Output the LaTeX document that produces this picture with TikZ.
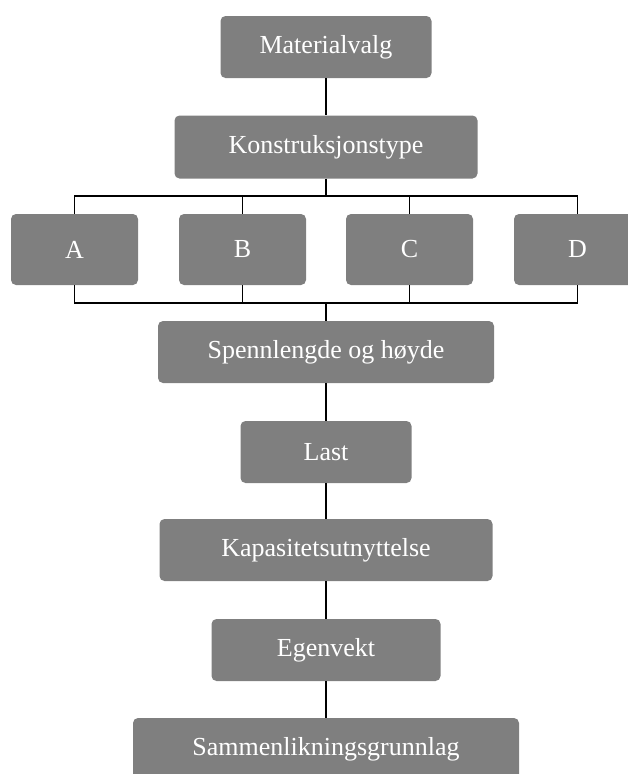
\documentclass[tikz,border=0pt]{standalone}
\usepackage{fontspec}
\setmainfont{Liberation Serif}
\definecolor{boxgray}{RGB}{127,127,127}
\begin{document}
\begin{tikzpicture}[x=1pt,y=-1pt,
  box/.style={fill=boxgray, draw=none, rounded corners=5pt, text=white,
    inner sep=0pt, minimum height=62pt,
    font=\fontsize{26}{31}\selectfont},
  conn/.style={draw=black, line width=1.5pt}]
\useasboundingbox (0,0) rectangle (628,774);
\clip (0,0) rectangle (628,774);
\node[box, minimum width=211pt] (mat) at (326,47) {Materialvalg};
\node[box, minimum width=303pt, minimum height=63pt] (kon) at (326,147) {Konstruksjonstype};
\node[box, minimum width=127pt, minimum height=71pt] (A) at (74.5,249.5) {A};
\node[box, minimum width=127pt, minimum height=71pt] (B) at (242.5,249.5) {B};
\node[box, minimum width=127pt, minimum height=71pt] (C) at (409.5,249.5) {C};
\node[box, minimum width=127pt, minimum height=71pt] (D) at (577.5,249.5) {D};
\node[box, minimum width=336pt] (spenn) at (326,352) {Spennlengde og høyde};
\node[box, minimum width=171pt] (last) at (326,452) {Last};
\node[box, minimum width=333pt] (kap) at (326,550) {Kapasitetsutnyttelse};
\node[box, minimum width=229pt] (egen) at (326,650) {Egenvekt};
\node[box, minimum width=386pt] (samm) at (326,749) {Sammenlikningsgrunnlag};
\coordinate (tb) at (326,196);
\coordinate (bb) at (326,303);
\draw[conn] (mat.south) -- (kon.north);
\draw[conn] (kon.south) -- (tb);
\foreach \n in {A,B,C,D} {
  \draw[conn] (tb) -| (\n.north);
  \draw[conn] (\n.south) |- (bb);
}
\draw[conn] (bb) -- (spenn.north);
\draw[conn] (spenn.south) -- (last.north);
\draw[conn] (last.south) -- (kap.north);
\draw[conn] (kap.south) -- (egen.north);
\draw[conn] (egen.south) -- (samm.north);
\end{tikzpicture}
\end{document}
